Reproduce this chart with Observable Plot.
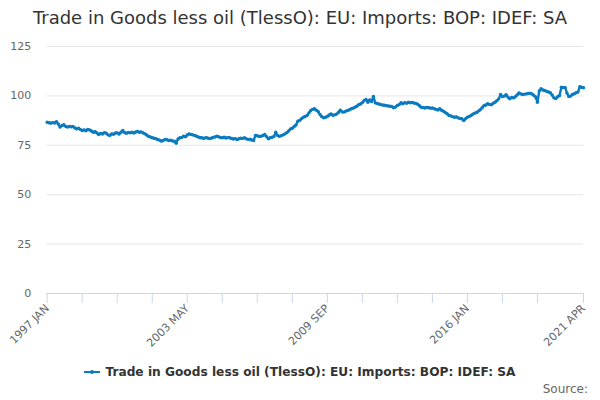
<!DOCTYPE html>
<html>
<head>
<meta charset="utf-8">
<script src="https://cdn.jsdelivr.net/npm/d3@7"></script>
<script src="https://cdn.jsdelivr.net/npm/@observablehq/plot@0.6"></script>
<style>
  html, body { margin: 0; padding: 0; background: #fff; }
  body { width: 600px; height: 400px; position: relative; overflow: hidden; font-family: "DejaVu Sans", sans-serif; }
  #title { position: absolute; left: 0; width: 600px; top: 7px; text-align: center; font-size: 18px; color: #333333; white-space: nowrap; }
  #chart { position: absolute; left: 0; top: 36px; }
  #legend { position: absolute; left: 0; width: 600px; top: 365px; display: flex; justify-content: center; align-items: center; font-size: 12.2px; font-weight: bold; color: #333333; white-space: nowrap; }
  #legend svg { margin-right: 5px; }
  #source { position: absolute; right: 12px; top: 382px; font-size: 12px; color: #666666; }
</style>
</head>
<body>
<div id="title"></div>
<div id="chart"></div>
<div id="legend"></div>
<div id="source">Source:</div>
<script>
const titleText = "Trade in Goods less oil (TlessO): EU: Imports: BOP: IDEF: SA";
const seriesName = "Trade in Goods less oil (TlessO): EU: Imports: BOP: IDEF: SA";
const monthNames = ["JAN","FEB","MAR","APR","MAY","JUN","JUL","AUG","SEP","OCT","NOV","DEC"];
const startYear = 1997;
const tickLabels = ["1997 JAN", "2003 MAY", "2009 SEP", "2016 JAN", "2021 APR"];
const minorTickStep = 19;
const yTicks = [0, 25, 50, 75, 100, 125];

// Monthly values, Jan 1997 – Apr 2021
const values = [
  86.7, 86.4, 86.2, 86.5, 86.3, 87.0, 85.8, 84.2, 85.0, 85.4, 84.6, 84.2, // 1997
  84.6, 84.3, 84.5, 83.8, 83.3, 83.6, 83.0, 82.5, 82.8, 82.4, 83.0, 82.8, // 1998
  82.2, 81.6, 81.9, 81.2, 80.5, 81.0, 80.7, 81.4, 81.1, 80.3, 80.0, 80.8, // 1999
  80.6, 81.2, 81.3, 80.7, 81.6, 82.5, 81.4, 81.1, 81.5, 81.3, 81.6, 81.2, // 2000
  81.7, 82.0, 81.6, 81.8, 81.3, 80.8, 80.2, 79.5, 79.2, 78.8, 78.6, 78.3, // 2001
  77.9, 77.6, 77.1, 77.5, 77.9, 77.8, 77.4, 77.6, 77.2, 77.1, 76.1, 78.2, // 2002
  78.8, 78.9, 79.6, 79.3, 80.2, 80.8, 80.5, 80.3, 80.0, 79.6, 79.2, 78.8, // 2003
  78.8, 78.5, 78.9, 78.7, 78.4, 78.6, 79.0, 79.2, 79.6, 79.3, 78.9, 78.8, // 2004
  79.1, 78.7, 78.9, 78.8, 78.5, 78.2, 78.4, 77.9, 78.3, 78.6, 78.5, 78.8, // 2005
  78.3, 78.0, 78.1, 77.7, 77.4, 80.0, 79.8, 79.5, 79.6, 79.9, 80.5, 79.4, // 2006
  78.3, 78.8, 79.1, 79.4, 81.6, 80.0, 79.5, 79.9, 80.3, 80.8, 81.4, 82.2, // 2007
  83.3, 83.6, 84.5, 85.3, 87.2, 87.6, 88.5, 89.2, 89.6, 90.1, 91.4, 92.6, // 2008
  93.2, 93.5, 92.8, 92.1, 90.6, 89.5, 88.9, 89.2, 89.6, 90.3, 90.9, 90.2, // 2009
  90.4, 90.8, 91.6, 92.8, 91.9, 91.8, 92.3, 92.6, 93.0, 93.5, 93.8, 94.3, // 2010
  94.8, 95.6, 95.9, 96.6, 97.7, 98.2, 96.8, 98.0, 97.2, 99.7, 96.5, 96.2, // 2011
  95.9, 95.6, 95.4, 95.3, 95.1, 94.9, 94.8, 94.6, 94.0, 94.4, 95.2, 95.6, // 2012
  96.5, 96.0, 96.6, 96.3, 96.8, 96.5, 96.7, 96.4, 96.2, 95.8, 95.0, 94.2, // 2013
  94.1, 93.9, 94.2, 94.0, 93.8, 93.9, 93.5, 93.2, 92.9, 93.5, 92.7, 92.2, // 2014
  91.6, 91.0, 90.1, 89.9, 89.5, 89.2, 89.4, 88.9, 88.6, 88.4, 87.5, 88.4, // 2015
  89.2, 89.6, 90.1, 90.8, 91.3, 91.6, 92.3, 93.0, 94.0, 95.1, 95.4, 96.0, // 2016
  95.7, 95.5, 96.3, 96.8, 97.6, 98.5, 100.7, 99.7, 99.9, 100.6, 99.4, 98.5, // 2017
  99.2, 99.0, 99.6, 100.5, 101.5, 101.0, 100.7, 100.9, 101.0, 101.2, 101.4, 101.0, // 2018
  100.3, 99.5, 96.8, 102.5, 103.6, 103.0, 102.7, 102.3, 102.0, 101.6, 100.4, 99.0, // 2019
  98.7, 99.6, 100.2, 104.4, 104.2, 104.3, 101.5, 99.7, 99.9, 100.7, 101.1, 101.6, // 2020
  102.0, 104.6, 104.4, 104.1 // 2021
];

const blue = "#0b7bc1";
const data = values.map((v, i) => ({i, v}));
const labelIndex = s => {
  const [y, m] = s.split(" ");
  return (+y - startYear) * 12 + monthNames.indexOf(m);
};
const labelled = new Map(tickLabels.map(s => [labelIndex(s), s]));
const lastIndex = values.length - 1;
const tickPositions = d3.range(0, lastIndex - minorTickStep / 2, minorTickStep).concat([lastIndex]);

document.getElementById("title").textContent = titleText;

const chart = Plot.plot({
  width: 600,
  height: 324,
  marginTop: 10,
  marginLeft: 46.7,
  marginRight: 17,
  marginBottom: 67,
  style: {fontFamily: "DejaVu Sans, sans-serif", background: "transparent", overflow: "visible"},
  x: {domain: [0, lastIndex], axis: null, label: null},
  y: {domain: [0, 125], axis: null, label: null},
  marks: [
    Plot.gridY(yTicks.filter(d => d > 0), {stroke: "#e6e6e6", strokeOpacity: 1}),
    Plot.axisY(yTicks, {tickSize: 0, tickPadding: 16, fontSize: 11, fill: "#666666", label: null}),
    Plot.ruleY([0], {stroke: "#ccd6eb"}),
    Plot.axisX(tickPositions, {
      tickSize: 10, stroke: "#ccd6eb", strokeOpacity: 1,
      tickFormat: d => labelled.get(d) ?? "",
      tickRotate: -45, tickPadding: 3, fontSize: 11, fill: "#666666", label: null
    }),
    Plot.lineY(data, {x: "i", y: "v", stroke: blue, strokeWidth: 2.4}),
    Plot.dot(data, {x: "i", y: "v", fill: blue, r: 1.7})
  ]
});
document.getElementById("chart").appendChild(chart);

const legend = document.getElementById("legend");
const sym = d3.create("svg").attr("width", 16).attr("height", 12);
sym.append("line").attr("x1", 0).attr("x2", 16).attr("y1", 6).attr("y2", 6).attr("stroke", blue).attr("stroke-width", 2);
sym.append("circle").attr("cx", 8).attr("cy", 6).attr("r", 2).attr("fill", blue);
legend.appendChild(sym.node());
const lt = document.createElement("span");
lt.textContent = seriesName;
legend.appendChild(lt);
</script>
</body>
</html>
